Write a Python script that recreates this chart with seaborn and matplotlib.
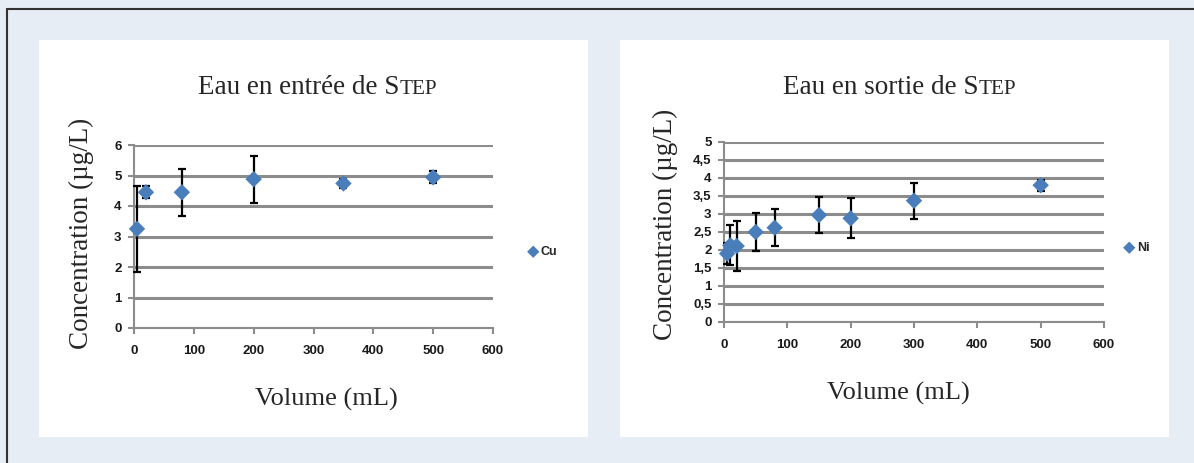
import matplotlib
matplotlib.use('Agg')
import matplotlib.pyplot as plt
import seaborn as sns
from matplotlib.patches import Rectangle
from matplotlib.lines import Line2D

# ---- data ----
cu_volume = [5, 20, 80, 200, 350, 500]
cu_conc = [3.25, 4.45, 4.45, 4.88, 4.74, 4.94]
cu_err = [1.4, 0.2, 0.77, 0.77, 0.15, 0.2]

ni_volume = [5, 10, 20, 50, 80, 150, 200, 300, 500]
ni_conc = [1.9, 2.13, 2.11, 2.5, 2.62, 2.97, 2.88, 3.37, 3.8]
ni_err = [0.3, 0.56, 0.69, 0.52, 0.51, 0.51, 0.56, 0.5, 0.15]

x_ticks = [0, 100, 200, 300, 400, 500, 600]
cu_yticks = [0, 1, 2, 3, 4, 5, 6]
ni_yticks = [0, 0.5, 1, 1.5, 2, 2.5, 3, 3.5, 4, 4.5, 5]
ni_ylabels = ['0', '0,5', '1', '1,5', '2', '2,5', '3', '3,5', '4', '4,5', '5']

left_title = ("Eau en entrée de S", "TEP")
right_title = ("Eau en sortie de S", "TEP")
ylabel = "Concentration (µg/L)"
xlabel = "Volume (mL)"

sns.set_style('white')
plt.rcParams['font.family'] = ['Liberation Sans', 'DejaVu Sans']

W, H = 1194, 463
BG = '#e6edf5'
BLUE = '#4a7ebb'
GRID = '#8c8c8c'
SERIF = 'Liberation Serif'

fig = plt.figure(figsize=(W / 100, H / 100), dpi=100, facecolor=BG)


def fx(x):
    return x / W


def fy(y):
    return 1 - y / H


# white panels
for (x0, x1) in [(39, 588), (620, 1169)]:
    fig.add_artist(Rectangle((fx(x0), fy(437)), (x1 - x0) / W, (437 - 40) / H,
                             transform=fig.transFigure, facecolor='white',
                             edgecolor='none', zorder=0))
# outer frame (left & top)
fig.add_artist(Line2D([fx(7), fx(7)], [fy(9), 0], transform=fig.transFigure,
                      color='#333333', lw=1.5))
fig.add_artist(Line2D([fx(7), 1], [fy(9), fy(9)], transform=fig.transFigure,
                      color='#333333', lw=1.5))

ax1 = fig.add_axes([fx(134), fy(328), (493 - 134) / W, (328 - 145) / H])
ax2 = fig.add_axes([fx(724), fy(322), (1104 - 724) / W, (322 - 142) / H])


def style(ax, yticks, ylabels, ymax):
    ax.set_facecolor('white')
    ax.set_xlim(0, 600)
    ax.set_ylim(0, ymax)
    ax.set_xticks(x_ticks)
    ax.set_xticklabels([str(t) for t in x_ticks])
    ax.set_yticks(yticks)
    ax.set_yticklabels(ylabels)
    ax.grid(axis='y', color=GRID, lw=2.2, zorder=1)
    ax.grid(axis='x', visible=False)
    ax.set_axisbelow(True)
    for s in ['top', 'right']:
        ax.spines[s].set_visible(False)
    for s in ['left', 'bottom']:
        ax.spines[s].set_color(GRID)
        ax.spines[s].set_linewidth(1.5)
    ax.tick_params(axis='both', length=4, width=1.5, color=GRID, labelsize=9.5,
                   labelcolor='#1a1a1a', direction='out', left=True, bottom=True)
    ax.tick_params(axis='x', pad=8)
    ax.tick_params(axis='y', pad=5)
    for lab in ax.get_xticklabels() + ax.get_yticklabels():
        lab.set_fontweight('semibold')
    ax.set_xlabel('')
    ax.set_ylabel('')


def draw(ax, xs, ys, es, name, legend_xy):
    ax.errorbar(xs, ys, yerr=es, fmt='none', ecolor='black', elinewidth=1.6,
                capsize=3, capthick=1.6, zorder=3, clip_on=False)
    sns.scatterplot(x=xs, y=ys, ax=ax, marker='D', s=70, color=BLUE,
                    edgecolor='none', label=name, zorder=4, clip_on=False)
    ax.legend(loc='center left', bbox_to_anchor=(fx(legend_xy[0]), fy(legend_xy[1])),
              bbox_transform=fig.transFigure, frameon=False, handletextpad=0.1,
              handlelength=1.0, markerscale=0.75, borderpad=0, borderaxespad=0,
              prop={'family': 'Liberation Sans', 'size': 9, 'weight': 'semibold'})


draw(ax1, cu_volume, cu_conc, cu_err, 'Cu', (527, 252))
draw(ax2, ni_volume, ni_conc, ni_err, 'Ni', (1123, 248))
style(ax1, cu_yticks, [str(t) for t in cu_yticks], 6)
style(ax2, ni_yticks, ni_ylabels, 5)

# axis labels
fig.text(fx(81), fy(233), ylabel, rotation=90, ha='center', va='center',
         family=SERIF, size=19.5)
fig.text(fx(665), fy(224), ylabel, rotation=90, ha='center', va='center',
         family=SERIF, size=19.5)
fig.text(fx(326), fy(406), xlabel, ha='center', va='baseline', family=SERIF, size=19)
fig.text(fx(898), fy(400), xlabel, ha='center', va='baseline', family=SERIF, size=19)


# titles with small caps
def title(cx, baseline, parts, size):
    t1 = fig.text(0, 0, parts[0], family=SERIF, size=size, va='baseline', ha='left')
    t2 = fig.text(0, 0, parts[1], family=SERIF, size=size * 0.78, va='baseline', ha='left')
    fig.canvas.draw()
    r = fig.canvas.get_renderer()
    w1 = t1.get_window_extent(r).width
    w2 = t2.get_window_extent(r).width
    left = cx - (w1 + w2) / 2
    t1.set_position((fx(left), fy(baseline)))
    t2.set_position((fx(left + w1), fy(baseline)))


title(318, 94, left_title, 19.5)
title(900, 94, right_title, 19.5)

fig.savefig('out.png', dpi=100, facecolor=BG)
